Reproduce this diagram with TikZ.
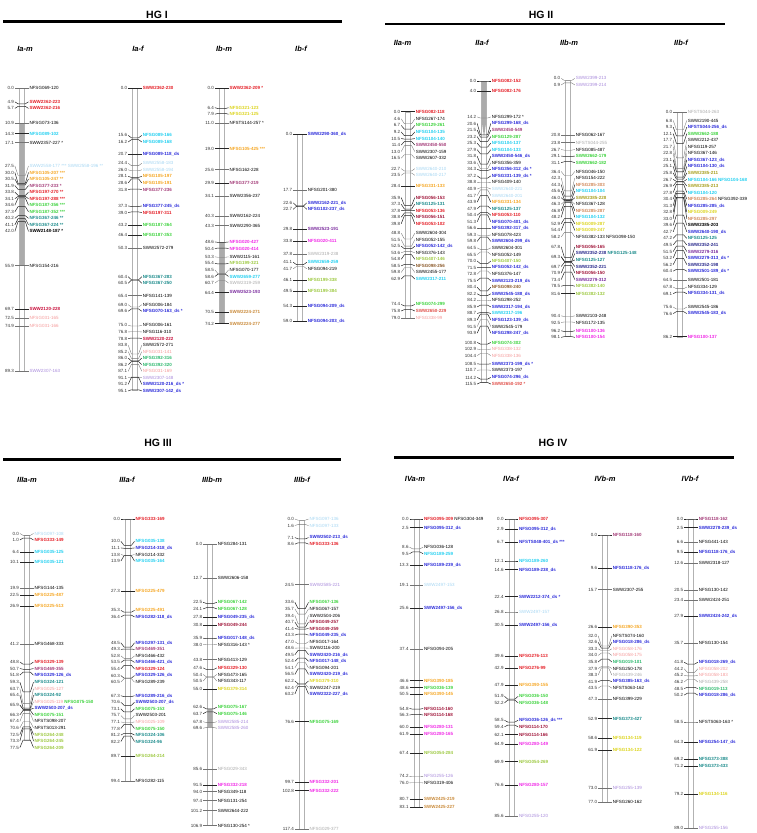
\documentclass[tikz,border=0pt]{standalone}
\usepackage{fontspec}
\setmainfont{Liberation Sans}
\usetikzlibrary{positioning,calc}

\definecolor{cRed}{HTML}{E41E26}
\definecolor{cCrimson}{HTML}{C8103C}
\definecolor{cMaroon}{HTML}{A0163A}
\definecolor{cPlum}{HTML}{A33C78}
\definecolor{cCyan}{HTML}{22CFF0}
\definecolor{cLBlue}{HTML}{A6D6F2}
\definecolor{cOrange}{HTML}{F5A623}
\definecolor{cGreen}{HTML}{3CD23C}
\definecolor{cMGreen}{HTML}{2EB86E}
\definecolor{cTeal}{HTML}{1A8A8A}
\definecolor{cBlue}{HTML}{2B2BD9}
\definecolor{cDBlue}{HTML}{2A2A8C}
\definecolor{cPink}{HTML}{F49A9A}
\definecolor{cSalmon}{HTML}{E0504A}
\definecolor{cLav}{HTML}{A98BDB}
\definecolor{cYellow}{HTML}{DCD41E}
\definecolor{cYGreen}{HTML}{9CC840}
\definecolor{cMagenta}{HTML}{F028E6}
\definecolor{cBrown}{HTML}{C98A3A}
\definecolor{cDBrown}{HTML}{8B5A2B}
\definecolor{cPeru}{HTML}{D0885A}
\definecolor{cOlive}{HTML}{A8A020}
\definecolor{cPurple}{HTML}{7B2D9E}
\definecolor{cLGray}{HTML}{AAAAAA}

\tikzset{
  lbl/.style={inner sep=0.4pt, font=\fontsize{4.5}{5}\selectfont},
  bld/.style={font=\fontsize{4.5}{5}\selectfont\bfseries},
  nrm/.style={},
  tick/.style={line width=0.35pt, line join=round},
  bldtk/.style={tick, draw=black!85, line width=0.5pt},
  nrmtk/.style={tick, draw=black!55},
  numtxt/.style={lbl, text=black!80},
  chrbar/.style={draw=black!30, line width=0.35pt},
  cfill/.style={fill=black!33},
  chrtitle/.style={font=\fontsize{7.5}{9}\selectfont\bfseries\itshape},
  hgtitle/.style={font=\fontsize{10.5}{12}\selectfont\bfseries},
  hgline/.style={line width=2.6pt},
}
\newcommand{\mkstyle}[3]{\tikzset{#1/.style={lbl,#3,text=#2}, tk#1/.style={#3tk}}}
\mkstyle{mk}{black}{nrm}
\mkstyle{mkb}{black}{bld}
\mkstyle{mkr}{cRed}{bld}
\mkstyle{mkcr}{cCrimson}{bld}
\mkstyle{mkma}{cMaroon}{bld}
\mkstyle{mkpl}{cPlum}{bld}
\mkstyle{mkc}{cCyan}{bld}
\mkstyle{mklb}{cLBlue}{nrm}
\mkstyle{mko}{cOrange}{bld}
\mkstyle{mkg}{cGreen}{bld}
\mkstyle{mkmg}{cMGreen}{bld}
\mkstyle{mkt}{cTeal}{bld}
\mkstyle{mkbl}{cBlue}{bld}
\mkstyle{mkdb}{cDBlue}{bld}
\mkstyle{mkpk}{cPink}{nrm}
\mkstyle{mksa}{cSalmon}{bld}
\mkstyle{mklv}{cLav}{nrm}
\mkstyle{mky}{cYellow}{bld}
\mkstyle{mkyg}{cYGreen}{bld}
\mkstyle{mkm}{cMagenta}{bld}
\mkstyle{mkbr}{cBrown}{bld}
\mkstyle{mkdbr}{cDBrown}{bld}
\mkstyle{mkpe}{cPeru}{bld}
\mkstyle{mkol}{cOlive}{bld}
\mkstyle{mkpu}{cPurple}{bld}
\mkstyle{mkgy}{cLGray}{nrm}

% label spreading: clusters of labels kept apart by \lblsep, centred on their markers
\def\lblsep{6.55}
\newcount\mkN \newcount\mkI \newcount\mkL \newcount\stk \newcount\stkB \newcount\ci \newcount\jj
\def\mergeclusters{%
  \let\mcnext\relax
  \ifnum\stk>1
    \stkB=\stk \advance\stkB by -1
    \edef\cmTa{\csname ct\the\stkB\endcsname}%
    \edef\cmNa{\csname cn\the\stkB\endcsname}%
    \edef\cmTb{\csname ct\the\stk\endcsname}%
    \pgfmathsetmacro\cmLim{\cmTa+\cmNa*\lblsep}%
    \ifdim\cmTb pt<\cmLim pt
      \edef\cmSa{\csname cs\the\stkB\endcsname}%
      \edef\cmSb{\csname cs\the\stk\endcsname}%
      \edef\cmNb{\csname cn\the\stk\endcsname}%
      \pgfmathtruncatemacro\cmNn{\cmNa+\cmNb}%
      \pgfmathsetmacro\cmSn{\cmSa+\cmSb}%
      \pgfmathsetmacro\cmTn{\cmSn/\cmNn-(\cmNn-1)*\lblsep/2}%
      \expandafter\xdef\csname cn\the\stkB\endcsname{\cmNn}%
      \expandafter\xdef\csname cs\the\stkB\endcsname{\cmSn}%
      \expandafter\xdef\csname ct\the\stkB\endcsname{\cmTn}%
      \global\advance\stk by -1
      \let\mcnext\mergeclusters
    \fi
  \fi
  \mcnext}
\def\placecluster{%
  \ifnum\jj<\cmCnt\relax
    \global\advance\mkL by 1
    \pgfmathsetmacro\cmT{\cmTop+\the\jj*\lblsep}%
    \expandafter\xdef\csname mkl\the\mkL\endcsname{\cmT}%
    \advance\jj by 1
    \expandafter\placecluster
  \fi}
\newcommand{\cfill}[2]{\fill[cfill] (-2.5,#1*\cmsc) rectangle (2.5,#2*\cmsc);}
\newcommand{\cwedge}[2]{\fill[cfill] (-2.5,0) -- (2.5,0) -- (2.5,#1*\cmsc) -- (0,#2*\cmsc) -- (-2.5,#1*\cmsc) -- cycle;}
\newcommand{\cdark}[2]{\fill[black!60] (-2.5,#1*\cmsc) rectangle (2.5,#2*\cmsc);}

% \chrom[extra]{id}{x}{y of 0 cM}{px per cM}{cM/label/style,...}
\newcommand{\chrom}[6][]{%
  \begin{scope}[shift={(#3,#4)}]
  \def\cmsc{#5}%
  \global\mkN=0
  \foreach \fp/\fn/\fs in {#6}{%
    \global\advance\mkN by 1
    \pgfmathsetmacro\cmT{#5*\fp}%
    \expandafter\xdef\csname mkp\the\mkN\endcsname{\cmT}%
    \expandafter\xdef\csname mkv\the\mkN\endcsname{\fp}%
    \expandafter\xdef\csname mks\the\mkN\endcsname{\fs}%
    \expandafter\global\expandafter\let\csname mkn\the\mkN\endcsname\fn
  }%
  \expandafter\xdef\csname mkv0\endcsname{x}%
  \expandafter\xdef\csname mkv\the\numexpr\mkN+1\relax\endcsname{x}%
  \global\stk=0 \mkI=0
  \loop\ifnum\mkI<\mkN
    \advance\mkI by 1
    \global\advance\stk by 1
    \expandafter\xdef\csname cn\the\stk\endcsname{1}%
    \expandafter\xdef\csname cs\the\stk\endcsname{\csname mkp\the\mkI\endcsname}%
    \expandafter\xdef\csname ct\the\stk\endcsname{\csname mkp\the\mkI\endcsname}%
    \mergeclusters
  \repeat
  \ci=0 \global\mkL=0
  \loop\ifnum\ci<\stk
    \advance\ci by 1
    \edef\cmTop{\csname ct\the\ci\endcsname}%
    \edef\cmCnt{\csname cn\the\ci\endcsname}%
    \jj=0
    \placecluster
  \repeat
  \edef\cmEnd{\csname mkp\the\mkN\endcsname}%
  \fill[white] (-2.5,0) rectangle (2.5,\cmEnd);
  #1
  \draw[chrbar] (-2.5,0) rectangle (2.5,\cmEnd);
  \mkI=0
  \loop\ifnum\mkI<\mkN
    \advance\mkI by 1
    \edef\cmP{\csname mkp\the\mkI\endcsname}%
    \edef\cmL{\csname mkl\the\mkI\endcsname}%
    \edef\cmS{\csname mks\the\mkI\endcsname}%
    \edef\cmV{\csname mkv\the\mkI\endcsname}%
    \edef\cmVn{\csname mkv\the\numexpr\mkI+1\relax\endcsname}%
    \edef\cmVp{\csname mkv\the\numexpr\mkI-1\relax\endcsname}%
    \expandafter\let\expandafter\cmN\csname mkn\the\mkI\endcsname
    \let\cmLm\cmL
    \ifx\cmV\cmVn
      \edef\cmLo{\csname mkl\the\numexpr\mkI+1\relax\endcsname}%
      \pgfmathsetmacro\cmLm{(\cmL+\cmLo)/2}%
    \fi
    \ifx\cmV\cmVp
      \edef\cmLo{\csname mkl\the\numexpr\mkI-1\relax\endcsname}%
      \pgfmathsetmacro\cmLm{(\cmL+\cmLo)/2}%
    \fi
    \edef\cmD{\noexpand\draw[tk\cmS] (-6.8,\cmLm) -- (-3.6,\cmP) -- (3.6,\cmP) -- (6.8,\cmL);}\cmD
    \ifx\cmV\cmVp\else
      \node[numtxt,anchor=east] at (-7.2,\cmLm) {\cmV};
    \fi
    \edef\cmD{\noexpand\node[\cmS,anchor=west] (#2-\the\mkI) at (7.2,\cmL)}\cmD{\cmN};
  \repeat
  \end{scope}}

\begin{document}
\begin{tikzpicture}[x=1pt,y=-1pt]
\useasboundingbox (0,0) rectangle (757,833);

% group headers
\node[hgtitle] (hg1) at (157,15) {HG I};
\draw[hgline] (3,21.7) -- (342,21.7);
\node[hgtitle] (hg2) at (541,15) {HG II};
\draw[hgline] (385,24) -- (725,24);
\node[hgtitle] (hg3) at (158,443) {HG III};
\draw[hgline] (3,459.3) -- (341,459.3);
\node[hgtitle] (hg4) at (553,443) {HG IV};
\draw[hgline] (394,457.7) -- (734,457.7);

\node[chrtitle] (tIam) at (25,49) {Ia-m};
\node[chrtitle] (tIaf) at (138,49) {Ia-f};
\node[chrtitle] (tIbm) at (224,49) {Ib-m};
\node[chrtitle] (tIbf) at (301,49) {Ib-f};
\node[chrtitle] (tIIam) at (402.5,42.7) {IIa-m};
\node[chrtitle] (tIIaf) at (482,42.7) {IIa-f};
\node[chrtitle] (tIIbm) at (569,42.7) {IIb-m};
\node[chrtitle] (tIIbf) at (681,42.7) {IIb-f};
\node[chrtitle] (tIIIam) at (27,480) {IIIa-m};
\node[chrtitle] (tIIIaf) at (127,480) {IIIa-f};
\node[chrtitle] (tIIIbm) at (212,480) {IIIb-m};
\node[chrtitle] (tIIIbf) at (302,480) {IIIb-f};
\node[chrtitle] (tIVam) at (415,479) {IVa-m};
\node[chrtitle] (tIVaf) at (511,479) {IVa-f};
\node[chrtitle] (tIVbm) at (605,479) {IVb-m};
\node[chrtitle] (tIVbf) at (690,479) {IVb-f};

% HG I
\chrom[\cfill{10.9}{55.9}]{Iam}{21.7}{88.3}{3.17}{
0.0/NFSG069-120/mk, 4.9/SWW2362-223/mkr, 5.7/SWW2362-216/mkr, 10.9/NFSG073-136/mk,
14.3/NFSG089-102/mkc, 17.1/SWW2357-227 */mk,
27.5/SWW2558-177 *** SWW2558-196 **/mklb, 30.0/NFSG105-207 ***/mko, 30.5/NFSG105-247 **/mko,
31.9/NFSG377-233 */mkpl, 33.8/NFSG197-270 **/mkr, 34.1/NFSG197-288 ***/mkr,
34.6/NFSG187-356 ***/mkg, 37.3/NFSG187-352 ***/mkg, 40.2/NFSG367-246 **/mkt,
41.1/NFSG367-224 **/mkt, 42.0/SWW2148-187 */mkb, 55.9/NFSG154-216/mk,
69.7/SWW2120-228/mkcr, 72.5/NFSG031-165/mkpk, 74.9/NFSG031-166/mkpk, 89.3/SWW2307-163/mklv}

\chrom{Iaf}{135}{88.3}{3.17}{
0.0/SWW2362-230/mkr, 15.6/NFSG089-166/mkc, 16.2/NFSG089-168/mkc, 20.7/NFSG089-118\_ds/mkbl,
24.4/SWW2558-183/mklb, 26.0/SWW2558-194/mklb, 28.1/NFSG105-197/mko, 28.6/NFSG105-191/mko,
31.8/NFSG377-236/mkpl, 37.3/NFSG377-245\_ds/mkbl, 39.0/NFSG197-311/mkr, 43.2/NFSG187-364/mkg,
46.4/NFSG187-353/mkg, 50.3/SWW2572-279/mk, 60.4/NFSG367-283/mkt, 60.5/NFSG367-250/mkt,
65.4/NFSG141-139/mk, 69.0/NFSG006-184/mk, 69.6/NFSG070-163\_ds */mkbl, 75.0/NFSG006-161/mk,
76.8/NFSG116-310/mk, 78.8/SWW2120-222/mkcr, 83.8/SWW2572-271/mk, 85.2/NFSG031-141/mkpk,
86.0/NFSG392-316/mkmg, 86.2/NFSG392-320/mkmg, 87.1/NFSG031-169/mkpk, 91.1/SWW2307-148/mklv,
91.2/SWW2120-216\_ds */mkbl, 95.1/SWW2307-142\_ds/mkbl}

\chrom[\cfill{48.6}{74.2}]{Ibm}{221.7}{88.3}{3.17}{
0.0/SWW2362-209 */mkr, 6.4/NFSG321-123/mky, 7.9/NFSG321-125/mky, 11.0/NFSTS144-257 */mk,
19.0/NFSG105-425 ***/mko, 25.6/NFSG162-228/mk, 29.9/NFSG377-219/mkpl, 34.1/SWW2356-237/mk,
40.3/SWW2162-224/mk, 43.3/SWW2290-365/mk, 48.6/NFSG020-427/mkm, 50.4/NFSG020-414/mkm,
53.3/SWW2115-161/mk, 55.4/NFSG199-321/mkyg, 58.5/NFSG070-177/mk, 58.6/SWW2659-277/mkc,
60.7/SWW2319-259/mkgy, 64.4/SWW2523-193/mkpu, 70.5/SWW2224-271/mkbr, 74.2/SWW2224-277/mkbr}

\chrom{Ibf}{300}{134.3}{3.17}{
0.0/SWW2290-360\_ds/mkbl, 17.7/NFSG201-380/mk, 22.6/SWW2162-221\_ds/mkbl,
22.7/NFSG102-237\_ds/mkbl, 29.8/SWW2523-191/mkpu, 33.8/NFSG020-411/mkm,
37.8/SWW2319-238/mkgy, 41.1/SWW2659-259/mkc, 41.7/NFSG094-219/mk, 46.1/NFSG199-338/mkyg,
49.5/NFSG199-384/mkyg, 54.3/NFSG094-209\_ds/mkbl, 59.0/NFSG094-203\_ds/mkbl}

% HG II
\chrom{IIam}{408}{111.7}{2.61}{
0.0/NFSG082-118/mkr, 4.6/NFSG267-174/mk, 6.7/NFSG129-261/mkg, 9.2/NFSG104-135/mkc,
10.5/NFSG104-140/mkc, 11.4/SWW2450-550/mkpl, 13.0/SWW2307-159/mk, 16.5/SWW2607-332/mk,
22.7/SWW2640-210/mklb, 23.5/SWW2640-217/mklb, 28.4/NFSG331-133/mko, 35.9/NFSG056-153/mkma,
37.3/NFSG125-131/mkt, 37.8/NFSG053-136/mkr, 38.8/NFSG056-151/mkma, 39.8/NFSG053-102/mkr,
48.8/SWW2604-304/mk, 51.5/NFSG052-155/mk, 52.5/NFSG052-142\_ds/mkbl, 53.6/NFSG376-143/mk,
54.8/NFSG407-146/mkyg, 58.5/NFSG098-256/mkdbr, 59.8/SWW2455-177/mk, 62.9/SWW2317-211/mkc,
74.4/NFSG074-299/mkg, 75.8/SWW2650-229/mksa, 79.0/NFSG338-99/mkpk}

\chrom[\cwedge{15}{21.5}]{IIaf}{484}{81}{2.61}{
0.0/NFSG082-152/mkr, 4.0/NFSG082-176/mkr, 14.2/NFSG299-172 */mk, 20.6/NFSG299-168\_ds/mkbl,
21.5/SWW2450-549/mkpl, 23.2/NFSG129-287/mkg, 25.3/NFSG104-137/mkc, 27.9/NFSG104-133/mkc,
31.8/SWW2450-546\_ds/mkbl, 33.6/NFSG356-359/mk, 34.3/NFSG356-312\_ds */mkbl,
37.2/NFSG331-139\_ds */mkbl, 38.8/NFSG409-140/mk, 40.9/SWW2640-221/mklb, 41.7/SWW2640-201/mklb,
43.9/NFSG331-134/mko, 47.9/NFSG125-137/mkt, 50.4/NFSG053-110/mkr, 51.3/NFSG070-401\_ds/mkbl,
56.6/NFSG392-317\_ds/mkbl, 59.3/NFSG078-423/mk, 59.8/SWW2604-299\_ds/mkbl, 64.5/SWW2604-301/mk,
65.5/NFSG052-149/mk, 70.0/NFSG407-150/mkyg, 71.5/NFSG052-142\_ds/mkbl, 72.8/NFSG376-147/mk,
75.5/SWW2123-219\_ds/mkbl, 80.4/NFSG098-240/mkdbr, 82.2/SWW2545-188\_ds/mkbl, 84.2/NFSG298-252/mk,
85.9/SWW2317-194\_ds/mkbl, 88.7/SWW2317-196/mkc, 89.3/NFSG123-139\_ds/mkbl, 91.5/SWW2545-179/mk,
93.9/NFSG298-247\_ds/mkbl, 100.8/NFSG074-302/mkg, 102.9/NFSG338-132/mkpk, 104.4/NFSG338-136/mkpk,
108.5/SWW2373-199\_ds */mkbl, 110.7/SWW2373-197/mk, 114.2/NFSG074-296\_ds/mkbl,
115.5/SWW2650-192 */mksa}

\chrom[\cdark{45.6}{46.3}]{IIbm}{568}{80.5}{2.61}{
0.0/SWW2399-213/mklv, 0.9/SWW2399-214/mklv, 20.8/NFSG062-167/mk, 23.8/NFSTS044-255/mkgy,
26.7/NFSG085-487/mk, 29.1/SWW2662-179/mkg, 31.1/SWW2662-182/mkg, 36.4/NFSG046-150/mk,
42.3/NFSG154-222/mk, 44.3/NFSG285-303/mkpe, 45.6/NFSG104-104/mkc, 46.0/SWW2385-228/mkol,
46.3/NFSG367-128/mk, 46.8/NFSG285-287/mkpe, 48.2/NFSG104-132/mkc, 52.9/NFSG009-287/mky,
54.4/NFSG009-247/mky, 58.2/NFSG382-133 NFSG098-150/mk, 67.8/NFSG056-165/mkma,
69.3/SWW2352-238 \textcolor{cTeal}{NFSG125-148}/mkdb, 69.3/NFSG125-127/mkt,
69.7/SWW2352-221/mkdb, 70.9/NFSG056-150/mkma, 73.4/SWW2279-312/mkpu, 78.5/NFSG382-140/mkyg,
81.6/NFSG382-132/mkyg, 90.4/SWW2103-248/mk, 92.5/NFSG172-135/mk, 96.2/NFSG100-136/mkm,
98.1/NFSG100-154/mkm}

\chrom{IIbf}{680}{111.7}{2.61}{
0.0/NFSTS044-263/mkgy, 6.8/SWW2190-445/mk, 9.3/NFSTS044-256\_ds/mkbl, 12.1/SWW2662-188/mkg,
17.7/SWW2212-437/mk, 21.7/NFSG119-257/mk, 22.8/NFSG367-146/mk, 23.1/NFSG367-123\_ds/mkbl,
25.1/NFSG104-130\_ds/mkbl, 25.8/SWW2385-211/mkol, 26.7/NFSG104-166 NFSG104-168/mkc,
26.9/SWW2385-213/mkol, 27.8/NFSG104-120/mkc,
30.4/NFSG285-264 \textcolor{black}{\mdseries NFSG392-339}/mkpe, 31.3/NFSG285-285\_ds/mkbl,
32.8/NFSG009-249/mky, 33.0/NFSG285-297/mkpe, 39.6/SWW2385-203/mkb, 42.7/SWW2640-190\_ds/mkbl,
47.2/NFSG125-125/mkt, 49.5/SWW2352-241/mkdb, 51.5/SWW2279-316/mkpu, 53.2/SWW2279-313\_ds */mkbl,
56.2/SWW2352-198/mkdb, 60.4/SWW2501-189\_ds */mkbl, 64.5/SWW2501-181/mk, 67.8/NFSG334-129/mk,
69.1/NFSG334-131\_ds/mkbl, 75.6/SWW2545-186/mk, 76.6/SWW2545-183\_ds/mkbl, 86.2/NFSG100-137/mkm}

% HG III
\chrom{IIIam}{26.7}{535.4}{2.64}{
0.0/NFSG097-108/mklb, 1.0/NFSG333-149/mkr, 6.4/NFSG035-125/mkc, 10.1/NFSG035-121/mkc,
19.9/NFSG144-135/mk, 22.5/NFSG225-487/mko, 26.9/NFSG225-513/mko, 41.2/NFSG468-333/mk,
48.8/NFSG329-139/mkr, 50.7/NFSG469-355/mkpl, 51.8/NFSG329-126\_ds/mkbl, 59.3/NFSG324-121/mkt,
63.7/NFSG025-127/mkpk, 65.4/NFSG324-92/mkt,
65.9/NFSG025-119 \textcolor{cGreen}{\bfseries NFSG075-150}/mkpk, 65.9/SWW2503-207\_ds/mkbl,
66.3/NFSG075-151/mkg, 67.4/NFSTS098-207/mk, 70.6/NFSTS013-291/mk, 72.5/NFSG264-248/mkyg,
73.3/NFSG264-245/mkyg, 77.5/NFSG264-209/mkyg}

\chrom{IIIaf}{127.7}{519}{2.64}{
0.0/NFSG333-169/mkr, 10.0/NFSG035-138/mkc, 11.1/NFSG214-318\_ds/mkbl, 13.8/NFSG214-332/mk,
13.9/NFSG035-164/mkc, 27.3/NFSG225-479/mko, 35.3/NFSG225-491/mko, 36.4/NFSG282-118\_ds/mkbl,
48.5/NFSG297-131\_ds/mkbl, 49.3/NFSG469-351/mkpl, 52.8/NFSG466-432/mk, 53.5/NFSG466-421\_ds/mkbl,
55.4/NFSG329-124/mkr, 60.3/NFSG329-126\_ds/mkbl, 60.5/NFSG289-239/mk, 67.3/NFSG289-216\_ds/mkbl,
70.6/SWW2503-207\_ds/mkbl, 73.1/NFSG075-153/mkg, 75.7/SWW2503-201/mk, 77.1/NFSG025-109/mkpk,
77.8/NFSG075-150/mkg, 81.2/NFSG324-106/mkt, 82.2/NFSG324-96/mkt, 89.7/NFSG264-214/mkyg,
99.4/NFSG282-115/mk}

\chrom[\cfill{62.6}{69.6}]{IIIbm}{210}{544.3}{2.63}{
0.0/NFSG284-131/mk, 12.7/SWW2606-158/mk, 22.5/NFSG067-142/mkg, 24.1/NFSG067-128/mkg,
27.8/NFSG049-235\_ds/mkbl, 30.8/NFSG049-244/mkma, 35.9/NFSG017-148\_ds/mkbl, 38.0/NFSG316-143 */mk,
43.8/NFSG413-129/mk, 47.6/NFSG329-130/mkr, 50.4/NFSG473-165/mk, 50.5/NFSG343-117/mk,
55.0/NFSG379-314/mky, 62.6/NFSG075-167/mkg, 63.7/NFSG075-146/mkg, 67.8/SWW2585-214/mklv,
69.6/SWW2585-260/mklv, 85.6/NFSG029-343/mkgy, 91.5/NFSG332-218/mkm, 94.0/NFSG349-118/mk,
97.4/NFSG131-254/mk, 101.2/SWW2644-222/mk, 106.9/NFSG130-254 */mk}

\chrom{IIIbf}{301.7}{520.2}{2.63}{
0.0/NFSG097-136/mklb, 1.6/NFSG097-133/mklb, 7.1/SWW2502-213\_ds/mkbl, 8.6/NFSG333-136/mkr,
24.5/SWW2585-221/mklv, 33.6/NFSG067-136/mkg, 35.7/NFSG067-157/mk, 39.4/SWW2504-206/mk,
40.7/NFSG049-257/mkma, 41.4/NFSG049-259/mkma, 43.3/NFSG049-235\_ds/mkbl, 47.0/NFSG017-164/mk,
48.6/SWW2116-200/mk, 49.5/SWW2420-216\_ds/mkbl, 52.4/NFSG017-148\_ds/mkbl, 54.1/NFSG094-201/mk,
56.5/SWW2420-219\_ds/mkbl, 62.2/NFSG379-310/mky, 62.4/SWW2247-219/mk, 63.2/SWW2322-227\_ds/mkbl,
76.6/NFSG075-169/mkg, 99.7/NFSG332-201/mkm, 102.8/NFSG332-222/mkm, 117.4/NFSG029-377/mkgy}

% HG IV
\chrom{IVam}{416.3}{519}{3.47}{
0.0/NFSG095-309 \textcolor{black}{\mdseries NFSG304-349}/mkr, 2.5/NFSG095-312\_ds/mkbl,
8.6/NFSG036-128/mk, 9.5/NFSG189-259/mkc, 13.3/NFSG189-239\_ds/mkbl, 19.1/SWW2497-153/mklb,
25.6/SWW2497-156\_ds/mkbl, 37.4/NFSG094-205/mk, 46.6/NFSG390-185/mko, 48.6/NFSG036-139/mkg,
50.5/NFSG390-145/mko, 54.8/NFSG114-160/mkma, 56.3/NFSG114-168/mkma, 60.0/NFSG280-131/mkm,
61.9/NFSG280-165/mkm, 67.4/NFSG054-284/mkyg, 74.2/NFSG255-126/mklv, 76.0/NFSG319-406/mk,
80.7/SWW2425-219/mkbr, 83.1/SWW2425-227/mkbr}

\chrom{IVaf}{511.3}{519}{3.47}{
0.0/NFSG095-307/mkr, 2.9/NFSG095-312\_ds/mkbl, 6.7/NFSTS048-401\_ds ***/mkbl,
12.1/NFSG189-260/mkc, 14.6/NFSG189-238\_ds/mkbl, 22.4/SWW2212-374\_ds */mkbl,
26.8/SWW2497-157/mklb, 30.5/SWW2497-156\_ds/mkbl, 39.6/NFSG276-113/mkr, 42.9/NFSG276-99/mkr,
47.9/NFSG390-155/mko, 51.9/NFSG036-150/mkg, 52.2/NFSG036-148/mkg, 58.5/NFSG036-126\_ds ***/mkbl,
59.4/NFSG114-170/mkma, 62.1/NFSG114-166/mkma, 64.9/NFSG280-149/mkm, 69.9/NFSG054-269/mkyg,
76.6/NFSG280-157/mkm, 85.6/NFSG255-120/mklv}

\chrom{IVbm}{605}{535}{3.47}{
0.0/NFSG118-160/mkpl, 9.6/NFSG118-176\_ds/mkbl, 15.7/SWW2307-255/mk, 26.6/NFSG390-353/mko,
32.0/NFSTS074-160/mk, 32.6/NFSG018-286\_ds/mkbl, 33.3/NFSG058-176/mkpk, 34.0/NFSG058-175/mkpk,
35.8/NFSG019-101/mkmg, 37.9/NFSG250-178/mk, 38.3/NFSG439-246/mkgy, 41.9/NFSG385-163\_ds/mkbl,
43.5/NFSTS063-162/mk, 47.3/NFSG399-229/mk, 52.9/NFSG373-427/mkt, 58.6/NFSG134-119/mky,
61.9/NFSG134-122/mky, 73.0/NFSG255-139/mklv, 77.0/NFSG260-162/mk}

\chrom{IVbf}{691}{519}{3.47}{
0.0/NFSG118-162/mkpl, 2.5/SWW2278-239\_ds/mkbl, 6.6/NFSG441-143/mk, 9.5/NFSG118-176\_ds/mkbl,
12.6/SWW2318-127/mk, 20.5/NFSG130-142/mk, 23.4/SWW2424-251/mk, 27.9/SWW2424-242\_ds/mkbl,
35.7/NFSG130-154/mk, 41.8/NFSG018-269\_ds/mkbl, 44.2/NFSG058-202/mkpk, 45.2/NFSG058-183/mkpk,
46.2/NFSG439-258/mkgy, 48.5/NFSG019-113/mkmg, 50.2/NFSG018-286\_ds/mkbl,
58.5/NFSTS063-163 */mk, 64.3/NFSG254-147\_ds/mkbl, 69.2/NFSG373-388/mkt, 71.2/NFSG373-433/mkt,
79.2/NFSG134-116/mky, 89.0/NFSG255-156/mklv}
\end{tikzpicture}
\end{document}
